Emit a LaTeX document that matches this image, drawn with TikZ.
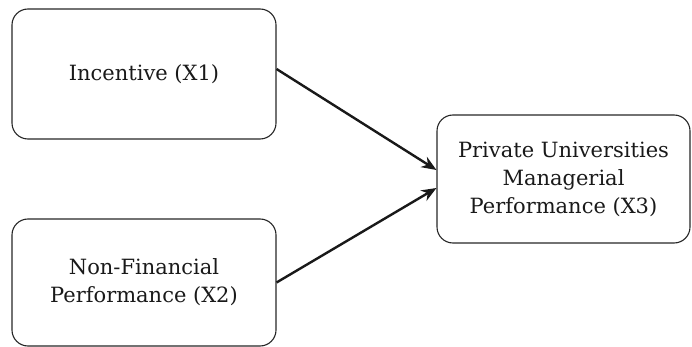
\documentclass[tikz,border=0pt]{standalone}
\usepackage{fontspec}
\setmainfont{DejaVu Serif}
\usetikzlibrary{arrows.meta}
\begin{document}
\begin{tikzpicture}[x=1pt,y=-1pt,
  box/.style={draw=black!85, line width=1.1pt, rounded corners=16pt, align=center,
    font=\fontsize{21}{28}\selectfont, text=black!90, inner sep=0pt},
  conn/.style={draw=black!90, line width=2.4pt, -{Stealth[length=15pt,width=12pt]}}]
\useasboundingbox (0,0) rectangle (692,347);
\node[box, minimum width=264pt, minimum height=130pt] (x1) at (144,74) {Incentive (X1)};
\node[box, minimum width=264pt, minimum height=127pt] (x2) at (144,282.5) {Non-Financial\\Performance (X2)};
\node[box, minimum width=253pt, minimum height=128pt] (x3) at (563.5,179) {Private Universities\\Managerial\\Performance (X3)};
\draw[conn] ([yshift=5pt]x1.east) -- ([yshift=9pt]x3.west);
\draw[conn] (x2.east) -- ([yshift=-9pt]x3.west);
\end{tikzpicture}
\end{document}
